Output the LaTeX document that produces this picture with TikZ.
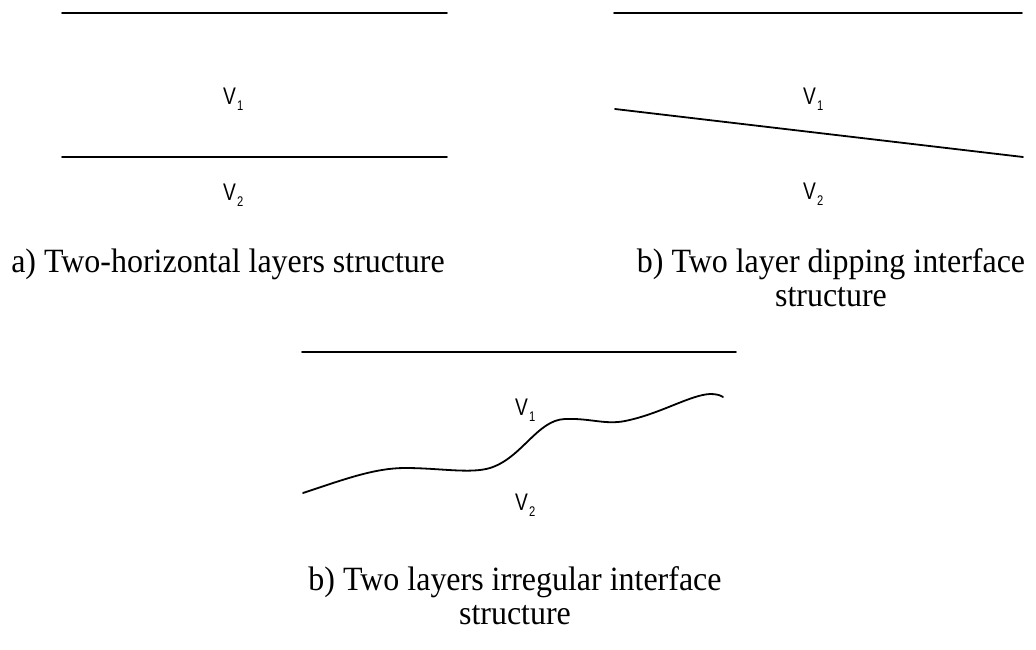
\documentclass[tikz,border=0pt]{standalone}
\usepackage{fontspec}
\setmainfont{Liberation Serif}
\newfontfamily\vfont{Liberation Sans}
\newcommand{\vlab}[1]{{\vfont V\hspace{1.5pt}\raisebox{-6pt}{\fontsize{14}{14}\selectfont #1}}}

\begin{document}
\begin{tikzpicture}[x=1pt,y=-1pt,line cap=round,line join=round,every node/.style={inner sep=0pt}]
  \tikzset{layer/.style={line width=1.8pt},
           vel/.style={font=\fontsize{24}{24}\selectfont,anchor=base west,xscale=0.8,transform shape},
           caption/.style={font=\fontsize{34}{34}\selectfont,align=center,anchor=base,xscale=0.94,transform shape}}
  \useasboundingbox (0,0) rectangle (1036,650);
  % a) horizontal layers
  \draw[layer] (62,13) -- (447,13);
  \draw[layer] (62,157) -- (447,157);
  \node[vel] (a1) at (223,105) {\vlab{1}};
  \node[vel] (a2) at (223,200) {\vlab{2}};
  \node[caption] (capa) at (228,272) {a) Two-horizontal layers structure};
  % b) dipping interface (base = last line)
  \draw[layer] (614,13) -- (1022,13);
  \draw[layer] (615,109) -- (1023,157);
  \node[vel] (b1) at (803,105) {\vlab{1}};
  \node[vel] (b2) at (803,199) {\vlab{2}};
  \node[caption] (capb) at (831,306) {b) Two layer dipping interface\\structure};
  % c) irregular interface
  \draw[layer] (302,352) -- (736,352);
  \draw[layer] (303,493) .. controls (345,479) and (375,468) .. (405,468)
    .. controls (440,468) and (470,474) .. (490,468)
    .. controls (522,458) and (537,420) .. (565,419)
    .. controls (590,418) and (605,425) .. (625,421)
    .. controls (660,414) and (690,395) .. (710,394)
    .. controls (716,394) and (720,395) .. (723,397);
  \node[vel] (c1) at (515,415) {\vlab{1}};
  \node[vel] (c2) at (515,510) {\vlab{2}};
  \node[caption] (capc) at (515,624) {b) Two layers irregular interface\\structure};
\end{tikzpicture}
\end{document}
